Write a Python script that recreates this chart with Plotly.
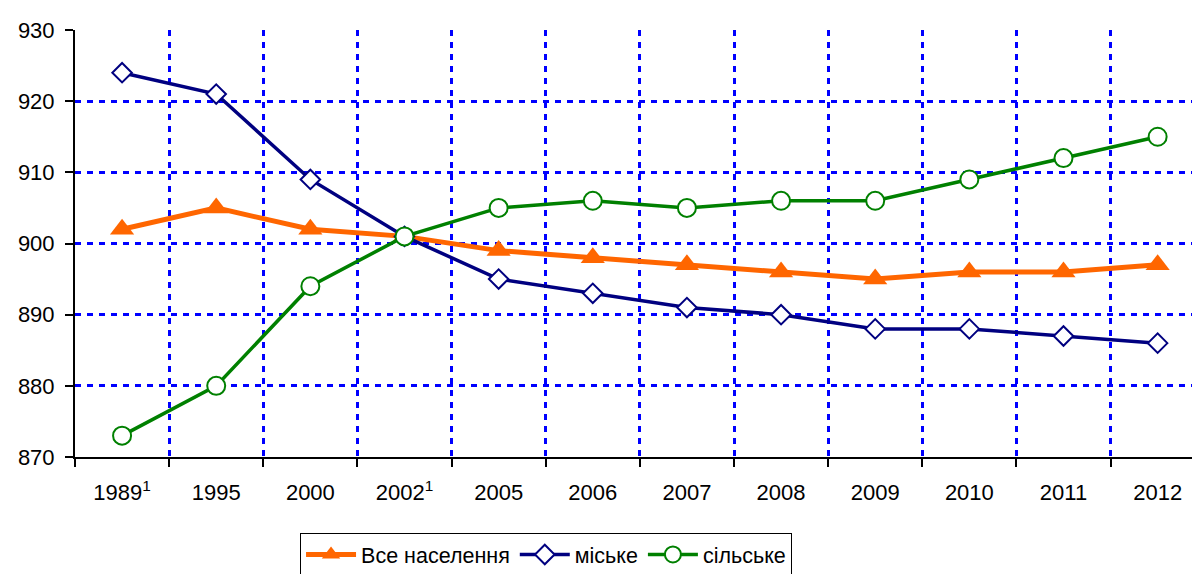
import plotly.graph_objects as go

years = ["1989<sup>1</sup>", "1995", "2000", "2002<sup>1</sup>", "2005", "2006", "2007",
         "2008", "2009", "2010", "2011", "2012"]
vse = [902, 905, 902, 901, 899, 898, 897, 896, 895, 896, 896, 897]
miske = [924, 921, 909, 901, 895, 893, 891, 890, 888, 888, 887, 886]
silske = [873, 880, 894, 901, 905, 906, 905, 906, 906, 909, 912, 915]

FONT = "Liberation Sans, Arial, sans-serif"

fig = go.Figure()
fig.add_trace(go.Scatter(
    x=years, y=vse, name="Все населення", mode="lines+markers",
    line=dict(color="#FF6600", width=5),
    marker=dict(symbol="triangle-up", size=21, color="#FF6600"),
))
fig.add_trace(go.Scatter(
    x=years, y=miske, name="міське", mode="lines+markers",
    line=dict(color="#000080", width=3.5),
    marker=dict(symbol="diamond", size=15, color="white",
                line=dict(color="#000080", width=2)),
))
fig.add_trace(go.Scatter(
    x=years, y=silske, name="сільське", mode="lines+markers",
    line=dict(color="#008000", width=3.5),
    marker=dict(symbol="circle", size=18, color="white",
                line=dict(color="#008000", width=2)),
))

fig.update_layout(
    width=1192, height=566,
    margin=dict(l=67, r=0, t=22, b=117, autoexpand=False),
    paper_bgcolor="white", plot_bgcolor="white",
    font=dict(family=FONT, size=22, color="black"),
    showlegend=True,
    legend=dict(
        orientation="h", x=0.4187, xanchor="center", y=-0.178, yanchor="top",
        bordercolor="black", borderwidth=1, font=dict(size=21.5),
        itemwidth=50, tracegroupgap=0,
    ),
    xaxis=dict(
        type="category", tickson="boundaries", range=[-0.5, 11.45],
        showline=True, linecolor="black", linewidth=2,
        ticks="outside", ticklen=8, tickwidth=2, tickcolor="black",
        showgrid=True, gridcolor="#0000FF", gridwidth=3, griddash="6px,6px",
        tickfont=dict(size=22), zeroline=False, ticklabelstandoff=15,
    ),
    yaxis=dict(
        range=[870, 930], dtick=10, tick0=870,
        showline=True, linecolor="black", linewidth=2,
        ticks="outside", ticklen=8, tickwidth=2, tickcolor="black",
        showgrid=True, gridcolor="#0000FF", gridwidth=3, griddash="6px,6px",
        tickfont=dict(size=22), zeroline=False, ticklabelstandoff=6,
    ),
)

fig.write_html("out.html")
